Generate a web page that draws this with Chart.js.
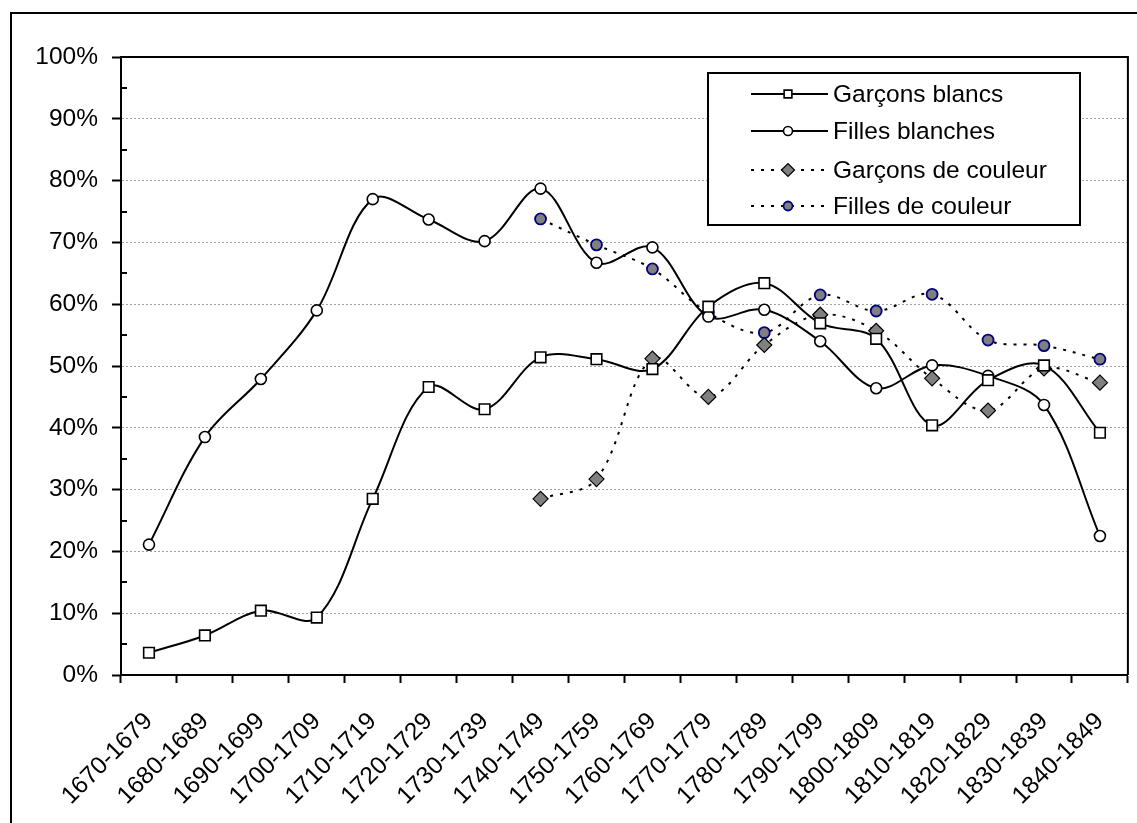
<!DOCTYPE html>
<html>
<head>
<meta charset="utf-8">
<script src="https://cdn.jsdelivr.net/npm/chart.js@4/dist/chart.umd.min.js"></script>
<style>
html,body{margin:0;padding:0;background:#fff;}
#wrap{position:relative;width:1137px;height:823px;}
</style>
</head>
<body>
<div id="wrap"><canvas id="c" width="1137" height="823"></canvas></div>
<script>
const categories = ["1670-1679","1680-1689","1690-1699","1700-1709","1710-1719","1720-1729","1730-1739","1740-1749","1750-1759","1760-1769","1770-1779","1780-1789","1790-1799","1800-1809","1810-1819","1820-1829","1830-1839","1840-1849"];
const garconsBlancs = [3.6, 6.4, 10.4, 9.3, 28.5, 46.6, 43.0, 51.4, 51.1, 49.5, 59.6, 63.4, 56.9, 54.4, 40.4, 47.7, 50.1, 39.2];
const fillesBlanches = [21.1, 38.5, 47.9, 59.0, 77.0, 73.7, 70.2, 78.7, 66.7, 69.2, 58.0, 59.1, 54.0, 46.4, 50.1, 48.4, 43.7, 22.5];
const garconsCouleur = [null, null, null, null, null, null, null, 28.5, 31.7, 51.2, 45.0, 53.4, 58.3, 55.7, 48.0, 42.8, 49.6, 47.3];
const fillesCouleur = [null, null, null, null, null, null, null, 73.8, 69.6, 65.7, 58.6, 55.4, 61.5, 58.9, 61.6, 54.2, 53.3, 51.1];
const seriesNames = ["Garçons blancs", "Filles blanches", "Garçons de couleur", "Filles de couleur"];
const yTicks = [0, 10, 20, 30, 40, 50, 60, 70, 80, 90, 100];

const FONT = "'Liberation Sans', Arial, sans-serif";
const FS = 24.5;

const framePlugin = {
  id: 'frame',
  beforeDraw(chart) {
    const ctx = chart.ctx;
    ctx.save();
    ctx.fillStyle = '#fff';
    ctx.fillRect(0, 0, chart.width, chart.height);
    ctx.strokeStyle = '#000';
    ctx.lineWidth = 2;
    ctx.strokeRect(11, 13, 1140, 830);
    ctx.restore();
  },
  afterDatasetsDraw(chart) {
    const ctx = chart.ctx;
    const a = chart.chartArea;
    const y = chart.scales.y;
    ctx.save();
    ctx.strokeStyle = '#000';
    ctx.lineWidth = 2;
    ctx.beginPath();
    ctx.moveTo(a.left, a.top);
    ctx.lineTo(a.right, a.top);
    ctx.lineTo(a.right, a.bottom);
    ctx.stroke();
    for (let i = 0; i < yTicks.length - 1; i++) {
      const py = Math.round(y.getPixelForValue((yTicks[i] + yTicks[i + 1]) / 2));
      ctx.beginPath();
      ctx.moveTo(a.left, py);
      ctx.lineTo(a.left + 6, py);
      ctx.stroke();
    }
    ctx.restore();
  },
  afterDraw(chart) {
    const ctx = chart.ctx;
    const bx = 708, by = 73, bw = 372, bh = 152;
    ctx.save();
    ctx.fillStyle = '#fff';
    ctx.fillRect(bx, by, bw, bh);
    ctx.strokeStyle = '#000';
    ctx.lineWidth = 2;
    ctx.strokeRect(bx, by, bw, bh);
    const rows = [94, 131, 170, 206];
    const legendRadius = [5.5, 4.5, 6.5, 4.5];
    chart.data.datasets.forEach((ds, i) => {
      const yy = rows[i];
      ctx.save();
      ctx.strokeStyle = '#000';
      ctx.lineWidth = ds.borderWidth;
      ctx.setLineDash(ds.borderDash || []);
      ctx.beginPath();
      ctx.moveTo(751, yy);
      ctx.lineTo(828, yy);
      ctx.stroke();
      ctx.restore();
      ctx.save();
      ctx.fillStyle = ds.pointBackgroundColor;
      ctx.strokeStyle = ds.pointBorderColor;
      ctx.lineWidth = ds.pointBorderWidth;
      Chart.helpers.drawPoint(ctx, {pointStyle: ds.pointStyle, radius: legendRadius[i], rotation: 0, borderWidth: ds.pointBorderWidth}, 788, yy);
      ctx.restore();
      ctx.fillStyle = '#000';
      ctx.font = FS + 'px ' + FONT;
      ctx.textBaseline = 'middle';
      ctx.textAlign = 'left';
      ctx.fillText(ds.label, 833, yy + 1);
    });
    ctx.restore();
  }
};

const TENSION = 0.35;
new Chart(document.getElementById('c'), {
  type: 'line',
  data: {
    labels: categories,
    datasets: [
      {label: seriesNames[0], data: garconsBlancs, borderColor: '#000', borderWidth: 2, tension: TENSION,
       pointStyle: 'rect', pointRadius: 7.5, pointBackgroundColor: '#fff', pointBorderColor: '#000', pointBorderWidth: 1.6},
      {label: seriesNames[1], data: fillesBlanches, borderColor: '#000', borderWidth: 2, tension: TENSION,
       pointStyle: 'circle', pointRadius: 5.5, pointBackgroundColor: '#fff', pointBorderColor: '#000', pointBorderWidth: 1.6},
      {label: seriesNames[2], data: garconsCouleur, borderColor: '#000', borderWidth: 2, borderDash: [3, 7], tension: TENSION,
       pointStyle: 'rectRot', pointRadius: 7.5, pointBackgroundColor: '#808080', pointBorderColor: '#000', pointBorderWidth: 1.2},
      {label: seriesNames[3], data: fillesCouleur, borderColor: '#000', borderWidth: 2, borderDash: [3, 7], tension: TENSION,
       pointStyle: 'circle', pointRadius: 5.5, pointBackgroundColor: '#808080', pointBorderColor: '#000080', pointBorderWidth: 1.8}
    ]
  },
  options: {
    responsive: false,
    animation: false,
    devicePixelRatio: 1,
    layout: {padding: {top: 57, right: 8, left: 10, bottom: 0}},
    plugins: {legend: {display: false}, tooltip: {enabled: false}},
    elements: {point: {hoverRadius: 0}},
    scales: {
      x: {
        type: 'category',
        offset: true,
        grid: {offset: true, drawOnChartArea: false, drawTicks: true, tickLength: 8, tickColor: '#000', tickWidth: 2},
        border: {display: true, color: '#000', width: 2},
        ticks: {color: '#000', font: {family: FONT, size: FS}, minRotation: 45, maxRotation: 45, autoSkip: false, padding: 24},
        afterFit(s) { s.height = 148; s.paddingLeft = 0; s.paddingRight = 0; }
      },
      y: {
        min: 0, max: 100,
        afterBuildTicks(s) { s.ticks = yTicks.map(v => ({value: v})); },
        grid: {color: '#a0a0a0', lineWidth: 1, tickLength: 9, tickColor: '#000', tickWidth: 2},
        border: {display: true, color: '#000', width: 2, dash: [2, 2]},
        ticks: {color: '#000', font: {family: FONT, size: FS}, padding: 14, callback: v => v + '%'},
        afterFit(s) { s.width = 111; s.paddingTop = 0; s.paddingBottom = 0; }
      }
    }
  },
  plugins: [framePlugin]
});
</script>
</body>
</html>
